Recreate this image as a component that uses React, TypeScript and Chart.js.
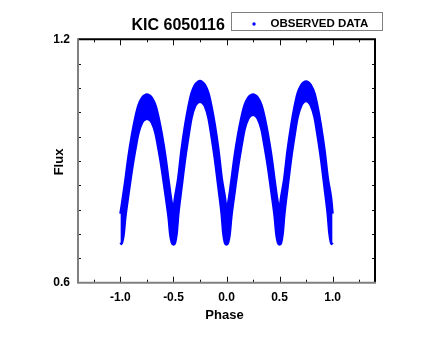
import React, { useEffect, useRef } from "react";
import { Chart, registerables } from "chart.js";

Chart.register(...registerables);

const chartTitle = "KIC 6050116";
const seriesLabel = "OBSERVED DATA";
const xAxisTitle = "Phase";
const yAxisTitle = "Flux";

const xTickLabels = [-1.0, -0.5, 0.0, 0.5, 1.0];
const xMinorTicks = [-1.25, -0.75, -0.25, 0.25, 0.75, 1.25];
const yTickLabels = [0.6, 1.2];
const yMinorTicks = [0.66, 0.72, 0.78, 0.84, 0.9, 0.96, 1.02, 1.08, 1.14];

// Upper edge of the observed-data band (phase, flux)
const upperPhase = [
  -1.0, -0.985, -0.955, -0.925, -0.89, -0.86, -0.83, -0.795, -0.77, -0.75, -0.73, -0.705, -0.67, -0.64, -0.61, -0.575, -0.545, -0.515,
  -0.5, -0.485, -0.455, -0.425, -0.39, -0.36, -0.33, -0.295, -0.27, -0.25, -0.23, -0.205, -0.17, -0.14, -0.11, -0.075, -0.045, -0.015,
  0.0, 0.015, 0.045, 0.075, 0.11, 0.14, 0.17, 0.205, 0.23, 0.25, 0.27, 0.295, 0.33, 0.36, 0.39, 0.425, 0.455, 0.485,
  0.5, 0.515, 0.545, 0.575, 0.61, 0.64, 0.67, 0.705, 0.73, 0.75, 0.77, 0.795, 0.83, 0.86, 0.89, 0.925, 0.955, 0.985, 1.0,
];
const upperFlux = [
  0.77, 0.795, 0.849, 0.909, 0.966, 1.006, 1.037, 1.056, 1.062, 1.064, 1.062, 1.056, 1.037, 1.006, 0.966, 0.909, 0.849, 0.795,
  0.783, 0.81, 0.857, 0.925, 0.988, 1.032, 1.067, 1.088, 1.095, 1.097, 1.095, 1.088, 1.067, 1.032, 0.988, 0.925, 0.857, 0.81,
  0.783, 0.795, 0.849, 0.909, 0.966, 1.006, 1.037, 1.056, 1.062, 1.064, 1.062, 1.056, 1.037, 1.006, 0.966, 0.909, 0.849, 0.795,
  0.783, 0.81, 0.857, 0.924, 0.987, 1.031, 1.066, 1.087, 1.094, 1.096, 1.094, 1.087, 1.066, 1.031, 0.987, 0.924, 0.857, 0.81, 0.77,
];

// Lower edge of the observed-data band (phase, flux)
const lowerPhase = [
  -1.0, -0.985, -0.97, -0.955, -0.925, -0.89, -0.86, -0.83, -0.795, -0.77, -0.75, -0.73, -0.705, -0.67, -0.64, -0.61, -0.575, -0.545, -0.53, -0.515,
  -0.5, -0.485, -0.47, -0.455, -0.425, -0.39, -0.36, -0.33, -0.295, -0.27, -0.25, -0.23, -0.205, -0.17, -0.14, -0.11, -0.075, -0.045, -0.03, -0.015,
  0.0, 0.015, 0.03, 0.045, 0.075, 0.11, 0.14, 0.17, 0.205, 0.23, 0.25, 0.27, 0.295, 0.33, 0.36, 0.39, 0.425, 0.455, 0.47, 0.485,
  0.5, 0.515, 0.53, 0.545, 0.575, 0.61, 0.64, 0.67, 0.705, 0.73, 0.75, 0.77, 0.795, 0.83, 0.86, 0.89, 0.925, 0.955, 0.97, 0.985, 1.0,
];
const lowerFlux = [
  0.694, 0.699, 0.718, 0.759, 0.817, 0.881, 0.928, 0.969, 0.995, 1.002, 1.004, 1.002, 0.995, 0.969, 0.928, 0.881, 0.817, 0.759, 0.718, 0.699,
  0.694, 0.699, 0.721, 0.768, 0.833, 0.906, 0.959, 1.006, 1.036, 1.044, 1.046, 1.044, 1.036, 1.006, 0.959, 0.906, 0.833, 0.768, 0.721, 0.699,
  0.694, 0.699, 0.719, 0.761, 0.821, 0.887, 0.935, 0.978, 1.004, 1.012, 1.014, 1.012, 1.004, 0.978, 0.935, 0.887, 0.821, 0.761, 0.719, 0.699,
  0.694, 0.699, 0.722, 0.768, 0.834, 0.908, 0.961, 1.008, 1.037, 1.046, 1.048, 1.046, 1.037, 1.008, 0.961, 0.908, 0.834, 0.768, 0.722, 0.699, 0.694,
];

const FONT = '"Liberation Sans", Arial, Helvetica, sans-serif';
const BLUE = "#0000FF";

const decorPlugin = {
  id: "decor",
  afterDraw(chart: any) {
    const { ctx, chartArea: a, scales } = chart;
    const xs = scales.x;
    const ys = scales.y;
    ctx.save();

    // inward tick marks on all four sides
    ctx.strokeStyle = "#111";
    ctx.lineWidth = 1;
    const seg = (x0: number, y0: number, x1: number, y1: number) => {
      ctx.beginPath();
      ctx.moveTo(x0, y0);
      ctx.lineTo(x1, y1);
      ctx.stroke();
    };
    for (const v of xTickLabels) {
      const x = Math.round(xs.getPixelForValue(v)) + 0.5;
      seg(x, a.bottom, x, a.bottom - 6);
      seg(x, a.top, x, a.top + 6);
    }
    for (const v of xMinorTicks) {
      const x = Math.round(xs.getPixelForValue(v)) + 0.5;
      seg(x, a.bottom, x, a.bottom - 3);
      seg(x, a.top, x, a.top + 3);
    }
    for (const v of yMinorTicks) {
      const y = Math.round(ys.getPixelForValue(v)) + 0.5;
      seg(a.left, y, a.left + 3, y);
      seg(a.right, y, a.right - 3, y);
    }

    // frame: top/right black, left/bottom grey
    ctx.lineWidth = 2;
    ctx.strokeStyle = "#000";
    ctx.beginPath();
    ctx.moveTo(a.left, a.top);
    ctx.lineTo(a.right, a.top);
    ctx.lineTo(a.right, a.bottom);
    ctx.stroke();
    ctx.strokeStyle = "#808080";
    ctx.beginPath();
    ctx.moveTo(a.left, a.top - 1);
    ctx.lineTo(a.left, a.bottom);
    ctx.lineTo(a.right + 1, a.bottom);
    ctx.stroke();

    // axis titles
    ctx.fillStyle = "#000";
    ctx.font = `bold 13px ${FONT}`;
    ctx.textAlign = "center";
    ctx.textBaseline = "alphabetic";
    ctx.fillText(xAxisTitle, (a.left + a.right) / 2 - 2, a.bottom + 36);

    ctx.save();
    ctx.font = `bold 13px ${FONT}`;
    ctx.translate(a.left - 15, (a.top + a.bottom) / 2 + 1);
    ctx.rotate(-Math.PI / 2);
    ctx.textAlign = "center";
    ctx.fillText(yAxisTitle, 0, 0);
    ctx.restore();

    // chart title
    ctx.font = `bold 16px ${FONT}`;
    ctx.textAlign = "left";
    ctx.fillText(chartTitle, 131.5, 29.5);

    // legend box
    ctx.lineWidth = 1;
    ctx.strokeStyle = "#808080";
    ctx.strokeRect(231.5, 12.5, 151, 18);
    ctx.fillStyle = BLUE;
    ctx.beginPath();
    ctx.arc(254, 24, 1.7, 0, Math.PI * 2);
    ctx.fill();
    ctx.fillStyle = "#000";
    ctx.font = `bold 11.5px ${FONT}`;
    ctx.fillText(seriesLabel, 270.5, 26.5);

    ctx.restore();
  },
};

export default function App() {
  const ref = useRef<HTMLCanvasElement | null>(null);

  useEffect(() => {
    if (!ref.current) return;
    const upper = upperPhase.map((p, i) => ({ x: p, y: upperFlux[i] }));
    const lower = lowerPhase.map((p, i) => ({ x: p, y: lowerFlux[i] }));
    const chart = new Chart(ref.current, {
      type: "line",
      data: {
        datasets: [
          {
            label: seriesLabel,
            data: upper,
            borderColor: BLUE,
            backgroundColor: BLUE,
            borderWidth: 2.5,
            pointRadius: 0,
            fill: "+1",
            cubicInterpolationMode: "monotone",
          },
          {
            label: seriesLabel + " (lower edge)",
            data: lower,
            borderColor: BLUE,
            backgroundColor: BLUE,
            borderWidth: 2.5,
            pointRadius: 0,
            fill: false,
            cubicInterpolationMode: "monotone",
          },
        ],
      },
      options: {
        animation: false,
        responsive: true,
        maintainAspectRatio: false,
        layout: { padding: { top: 39.3, right: 61, left: 0, bottom: 0 } },
        plugins: {
          legend: { display: false },
          title: { display: false },
          tooltip: { enabled: false },
        },
        scales: {
          x: {
            type: "linear",
            min: -1.4,
            max: 1.4,
            grid: { display: false, drawTicks: false },
            border: { display: false },
            afterBuildTicks: (s: any) => {
              s.ticks = xTickLabels.map((v) => ({ value: v }));
            },
            afterFit: (s: any) => {
              s.height = 56.3;
            },
            ticks: {
              padding: 8,
              color: "#000",
              maxRotation: 0,
              autoSkip: false,
              font: { family: FONT, size: 12, weight: "bold" },
              callback: (v: any) => Number(v).toFixed(1),
            },
          },
          y: {
            type: "linear",
            min: 0.6,
            max: 1.2,
            grid: { display: false, drawTicks: false },
            border: { display: false },
            afterBuildTicks: (s: any) => {
              s.ticks = yTickLabels.map((v) => ({ value: v }));
            },
            afterFit: (s: any) => {
              s.width = 78;
            },
            ticks: {
              padding: 8,
              color: "#000",
              autoSkip: false,
              font: { family: FONT, size: 12, weight: "bold" },
              callback: (v: any) => Number(v).toFixed(1),
            },
          },
        },
      },
      plugins: [decorPlugin],
    });
    return () => chart.destroy();
  }, []);

  return (
    <div style={{ position: "absolute", left: 0, top: 0, width: 436, height: 339, background: "#fff" }}>
      <canvas ref={ref} />
    </div>
  );
}
